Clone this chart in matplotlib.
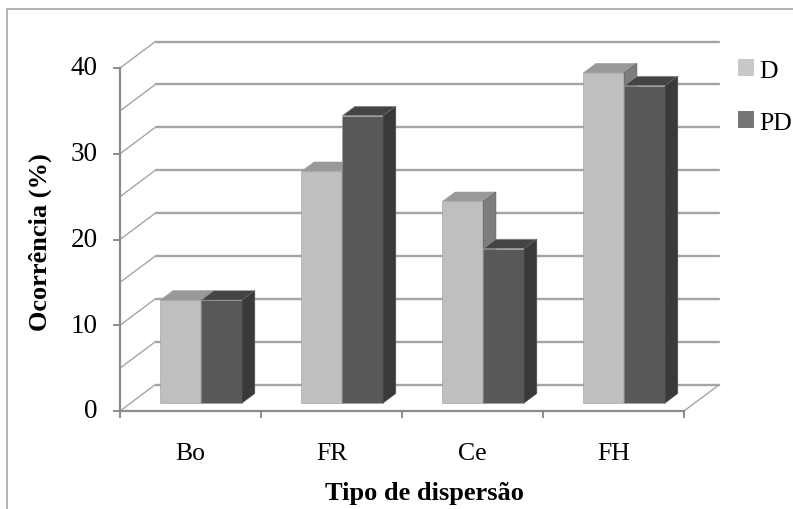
import matplotlib
matplotlib.use("Agg")
import matplotlib.pyplot as plt
from matplotlib.patches import Polygon, Patch, Rectangle

plt.rcParams["font.family"] = ["Liberation Serif", "DejaVu Serif"]

categories = ["Bo", "FR", "Ce", "FH"]
d_values = [12, 27, 23.5, 38.5]
pd_values = [12, 33.5, 18, 37]
series_names = ["D", "PD"]
y_ticks = [0, 10, 20, 30, 40]
grid_step = 5

# colours of the faces: front, top, side
face_colors = {
    "D": ("#c0bfbd", "#9a9997", "#7e7d7b"),
    "PD": ("#595856", "#454442", "#3a3937"),
}
legend_colors = {"D": "#c8c8c8", "PD": "#767676"}
grid_color = "#a5a5a5"
axis_color = "#8c8c8c"

W, H = 793, 510
fig = plt.figure(figsize=(W / 100, H / 100), dpi=100)

# outer chart border (only the left and top edges are in view)
fig.patches.append(Rectangle((7 / W, -0.1), 1.2, (H - 10) / H + 0.1,
                             transform=fig.transFigure, fill=False,
                             edgecolor="#a6a6a6", lw=1.2))

ax = fig.add_axes([120 / W, (H - 412) / H, 564 / W, 343 / H])
ax.set_xlim(0, len(categories))
ax.set_ylim(0, 40)
ax.axis("off")

# oblique depth offset in data units
dx = 35.5 / 141
dy = 26.5 / (343 / 40)
f0, f1 = 0.30, 0.66
bar_w = 0.29

# back wall gridlines, left wall diagonals, floor
for v in range(0, 41, grid_step):
    ax.plot([dx, len(categories) + dx], [v + dy, v + dy], color=grid_color,
            lw=1.7, solid_capstyle="round", clip_on=False, zorder=1)
    ax.plot([0, dx], [v, v + dy], color=grid_color, lw=1.0,
            clip_on=False, zorder=1)
ax.plot([len(categories), len(categories) + dx], [0, dy], color=grid_color,
        lw=1.0, clip_on=False, zorder=1)

# front axes
ax.plot([0, 0], [0, 40], color=axis_color, lw=1.6, clip_on=False, zorder=5)
ax.plot([0, len(categories)], [0, 0], color=axis_color, lw=1.6,
        clip_on=False, zorder=5)

ytick_len = 6 / 141
for v in y_ticks:
    ax.plot([-ytick_len, 0], [v, v], color=axis_color, lw=1.4, clip_on=False)
    ax.text(-0.16, v, str(v), ha="right", va="center", fontsize=19.5)

xtick_len = 6 / (343 / 40)
for i in range(len(categories) + 1):
    ax.plot([i, i], [0, -xtick_len], color=axis_color, lw=1.4, clip_on=False)


def draw_bar(x0, v, colors, z):
    front, top, side = colors
    ax.add_patch(Polygon([(x0 + f0 * dx, f0 * dy),
                          (x0 + bar_w + f0 * dx, f0 * dy),
                          (x0 + bar_w + f0 * dx, v + f0 * dy),
                          (x0 + f0 * dx, v + f0 * dy)],
                         facecolor=front, edgecolor="#9a9a9a", lw=0.4,
                         zorder=z, clip_on=False))
    ax.add_patch(Polygon([(x0 + f0 * dx, v + f0 * dy),
                          (x0 + bar_w + f0 * dx, v + f0 * dy),
                          (x0 + bar_w + f1 * dx, v + f1 * dy),
                          (x0 + f1 * dx, v + f1 * dy)],
                         facecolor=top, edgecolor="#a0a0a0", lw=0.4,
                         zorder=z, clip_on=False))
    ax.add_patch(Polygon([(x0 + bar_w + f0 * dx, f0 * dy),
                          (x0 + bar_w + f1 * dx, f1 * dy),
                          (x0 + bar_w + f1 * dx, v + f1 * dy),
                          (x0 + bar_w + f0 * dx, v + f0 * dy)],
                         facecolor=side, edgecolor="#555555", lw=0.4,
                         zorder=z, clip_on=False))


z = 2
for i in range(len(categories)):
    center = i + 0.5
    draw_bar(center - bar_w, d_values[i], face_colors["D"], z)
    z += 1
    draw_bar(center, pd_values[i], face_colors["PD"], z)
    z += 1
    ax.text(center, -4.9, categories[i], ha="center", va="center",
            fontsize=18.5)

ax.text(len(categories) / 2 + 0.16, -9.5, "Tipo de dispersão", ha="center",
        va="center", fontsize=19, fontweight="bold")
fig.text(40 / W, 1 - 242 / H, "Ocorrência (%)", rotation=90, ha="center",
         va="center", fontsize=19, fontweight="bold")

handles = [Patch(facecolor=legend_colors[s], edgecolor="none")
           for s in series_names]
fig.legend(handles, series_names, loc="upper left",
           bbox_to_anchor=(728 / W, 1 - 50 / H), frameon=False, fontsize=18.5,
           handlelength=0.62, handleheight=0.62, handletextpad=0.2,
           labelspacing=1.15, borderaxespad=0)

fig.savefig("out.png", dpi=100)
